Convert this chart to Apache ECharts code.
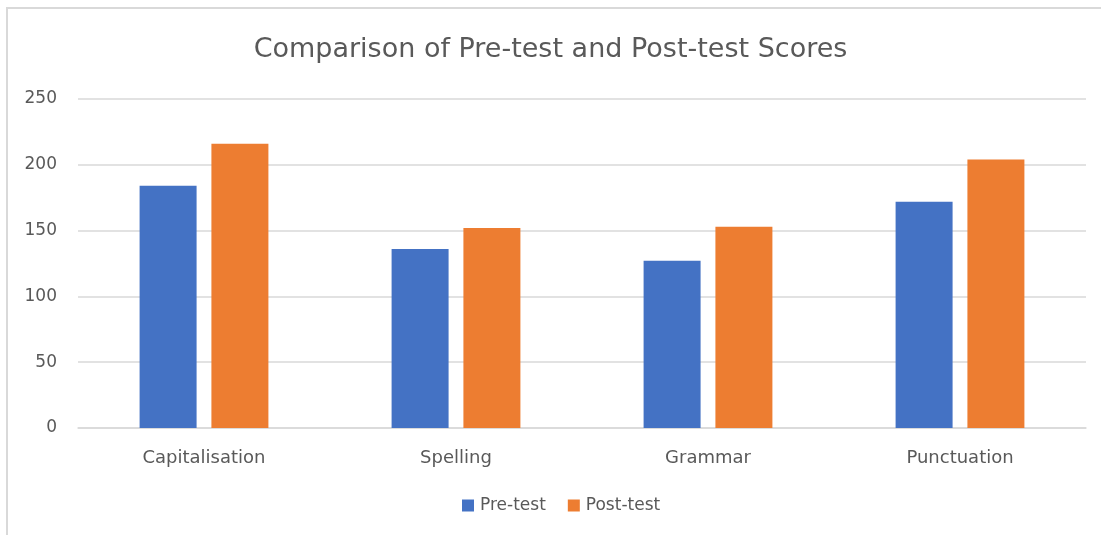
<!DOCTYPE html>
<html><head><meta charset="utf-8">
<script src="https://cdn.jsdelivr.net/npm/echarts@6/dist/echarts.min.js"></script>
<style>html,body{margin:0;padding:0;background:#fff}#c{width:1101px;height:535px}</style>
</head><body><div id="c"></div>
<script>
const categories = ['Capitalisation', 'Spelling', 'Grammar', 'Punctuation'];
const preTest = [184, 136, 127, 172];
const postTest = [216, 152, 153, 204];
const yTicks = [0, 50, 100, 150, 200, 250];

const chart = echarts.init(document.getElementById('c'));
const font = 'DejaVu Sans, sans-serif';
chart.setOption({
  animation: false,
  graphic: [
    {type:'line', shape:{x1:6, y1:8, x2:1101, y2:8}, style:{stroke:'#d9d9d9', lineWidth:2}, silent:true},
    {type:'line', shape:{x1:7, y1:7, x2:7, y2:535}, style:{stroke:'#d9d9d9', lineWidth:2}, silent:true}
  ],
  title: {text:'Comparison of Pre-test and Post-test Scores', left:'center', top:31,
    textStyle:{fontFamily:font, fontSize:27, fontWeight:'normal', color:'#595959'}},
  legend: {bottom:16, left:457, itemWidth:12, itemHeight:12, itemGap:22, icon:'rect',
    textStyle:{fontFamily:font, fontSize:17, color:'#595959', padding:[0,0,0,1]}},
  grid: {left:78, right:15, top:99, bottom:107, containLabel:false},
  xAxis: {type:'category', data:categories,
    axisLine:{lineStyle:{color:'#d9d9d9', width:1.5}}, axisTick:{show:false},
    axisLabel:{fontFamily:font, fontSize:18, color:'#595959', margin:21}},
  yAxis: {type:'value', min:yTicks[0], max:yTicks[yTicks.length-1], interval:50,
    axisLine:{show:false}, axisTick:{show:false},
    splitLine:{lineStyle:{color:'#d9d9d9', width:1.5}},
    axisLabel:{fontFamily:font, fontSize:17, color:'#595959', margin:21}},
  series: [
    {name:'Pre-test', type:'bar', data:preTest, barWidth:57, barGap:'26%', itemStyle:{color:'#4472c4'}},
    {name:'Post-test', type:'bar', data:postTest, barWidth:57, itemStyle:{color:'#ed7d31'}}
  ]
});
</script></body></html>
